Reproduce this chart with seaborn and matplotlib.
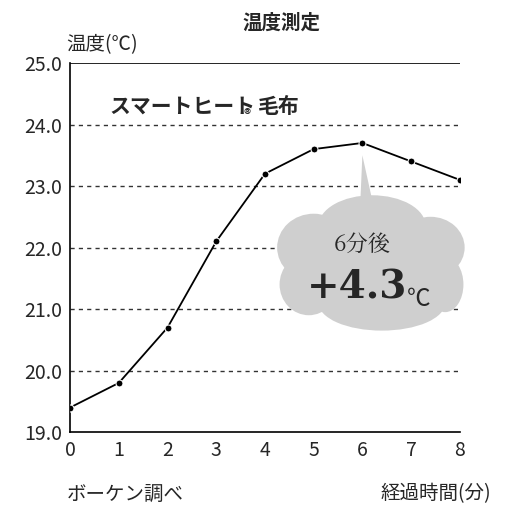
import matplotlib
matplotlib.use("Agg")
import matplotlib.pyplot as plt
import seaborn as sns
import pandas as pd
from matplotlib.patches import Ellipse, Polygon

minutes = [0, 1, 2, 3, 4, 5, 6, 7, 8]
temps = [19.4, 19.8, 20.7, 22.1, 23.2, 23.6, 23.7, 23.4, 23.1]
yticks = [19.0, 20.0, 21.0, 22.0, 23.0, 24.0, 25.0]

sns.set_style("white")
plt.rcParams['font.family'] = ['Noto Sans CJK JP', 'DejaVu Sans']

df = pd.DataFrame({"minute": minutes, "temp": temps})

fig = plt.figure(figsize=(5.12, 5.12), dpi=100)
ax = fig.add_axes([0.137, 0.156, 0.761, 0.721])

for y in [20, 21, 22, 23, 24]:
    ax.axhline(y, color="#333333", lw=1, ls=(0, (3, 3)), zorder=1)
ax.axhline(25, color="black", lw=1.2, zorder=1)

# cloud callout
gray = "#cfcfcf"
ax.add_patch(Polygon([[5.95, 22.6], [6.0, 23.5], [6.25, 22.6]], closed=True,
                     color=gray, lw=0, zorder=2, clip_on=False))
for cx, cy, w, h in [(5.0, 22.0, 1.5, 1.1), (6.2, 22.35, 2.2, 1.0), (7.4, 22.0, 1.4, 1.0),
                     (7.7, 21.4, 0.75, 0.9), (6.4, 21.1, 2.6, 0.9), (4.9, 21.4, 1.2, 1.0),
                     (6.1, 21.7, 3.2, 1.3)]:
    ax.add_patch(Ellipse((cx, cy), w, h, color=gray, lw=0, zorder=2, clip_on=False))
ax.text(6.0, 22.05, "6分後", ha="center", va="center", fontsize=16, zorder=3,
        family=['Noto Serif CJK JP', 'Noto Sans CJK JP'])
ax.text(5.9, 21.35, "+4.3", ha="center", va="center", fontsize=28, fontweight="bold",
        zorder=3, family=['DejaVu Serif'])
ax.text(7.15, 21.15, "℃", ha="center", va="center", fontsize=17, zorder=3)

sns.lineplot(data=df, x="minute", y="temp", ax=ax, color="black", lw=1.3,
             marker="o", markersize=5, zorder=4)

ax.set_xlim(0, 8)
ax.set_ylim(19, 25)
ax.set_xticks(minutes)
ax.set_yticks(yticks)
ax.set_yticklabels([f"{v:.1f}" for v in yticks])
ax.tick_params(labelsize=14, length=0, pad=6)
ax.set_xlabel("")
ax.set_ylabel("")
for s in ["top", "right"]:
    ax.spines[s].set_visible(False)
for s in ["left", "bottom"]:
    ax.spines[s].set_color("black")
    ax.spines[s].set_linewidth(1.2)

ax.text(0.8, 24.3, "スマートヒート", fontsize=15, fontweight="bold", va="center")
ax.text(3.55, 24.15, "®", fontsize=10, fontweight="bold", va="center")
ax.text(3.85, 24.3, "毛布", fontsize=15, fontweight="bold", va="center")

fig.text(0.55, 0.955, "温度測定", fontsize=14, fontweight="bold", ha="center", va="center")
fig.text(0.13, 0.913, "温度(℃)", fontsize=14, ha="left", va="center")
fig.text(0.13, 0.035, "ボーケン調べ", fontsize=14, ha="left", va="center")
fig.text(0.96, 0.035, "経過時間(分)", fontsize=14, ha="right", va="center")

fig.savefig("out.png", dpi=100, facecolor="white")
